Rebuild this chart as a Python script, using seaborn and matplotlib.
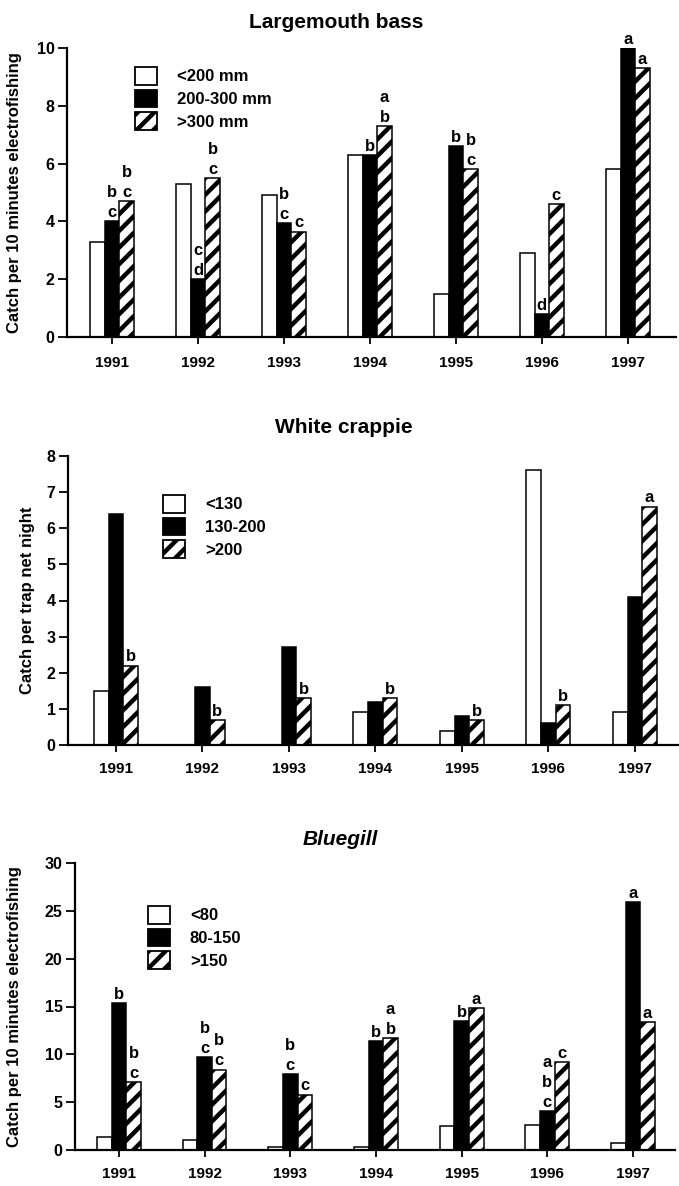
import numpy as np
import pandas as pd
import matplotlib
matplotlib.use("Agg")
import matplotlib.pyplot as plt
import seaborn as sns
from matplotlib.patches import Patch

# ---------------- data ----------------
years = ["1991", "1992", "1993", "1994", "1995", "1996", "1997"]

bass_sizes = ["<200 mm", "200-300 mm", ">300 mm"]
bass_small = [3.3, 5.3, 4.9, 6.3, 1.5, 2.9, 5.8]
bass_mid = [4.0, 2.0, 3.95, 6.3, 6.6, 0.8, 10.0]
bass_large = [4.7, 5.5, 3.65, 7.3, 5.8, 4.6, 9.3]
bass_mid_letters = ["bc", "cd", "bc", "b", "b", "d", "a"]
bass_large_letters = ["bc", "bc", "c", "ab", "bc", "c", "a"]

crappie_sizes = ["<130", "130-200", ">200"]
crappie_small = [1.5, 0.0, 0.0, 0.9, 0.4, 7.6, 0.9]
crappie_mid = [6.4, 1.6, 2.7, 1.2, 0.8, 0.6, 4.1]
crappie_large = [2.2, 0.7, 1.3, 1.3, 0.7, 1.1, 6.6]
crappie_mid_letters = ["", "", "", "", "", "", ""]
crappie_large_letters = ["b", "b", "b", "b", "b", "b", "a"]

bluegill_sizes = ["<80", "80-150", ">150"]
bluegill_small = [1.4, 1.0, 0.3, 0.3, 2.5, 2.6, 0.7]
bluegill_mid = [15.4, 9.7, 7.9, 11.4, 13.5, 4.1, 25.9]
bluegill_large = [7.1, 8.4, 5.8, 11.7, 14.8, 9.2, 13.4]
bluegill_mid_letters = ["b", "bc", "bc", "b", "b", "abc", "a"]
bluegill_large_letters = ["bc", "bc", "c", "ab", "a", "c", "a"]

# ---------------- style ----------------
sns.set_style("ticks")
plt.rcParams["font.family"] = ["Liberation Sans", "DejaVu Sans"]
plt.rcParams["font.weight"] = "bold"
plt.rcParams["text.color"] = "black"
plt.rcParams["axes.labelcolor"] = "black"
plt.rcParams["xtick.color"] = "black"
plt.rcParams["ytick.color"] = "black"
plt.rcParams["hatch.linewidth"] = 3.2
plt.rcParams["hatch.color"] = "black"

W, H = 679, 1186
fig = plt.figure(figsize=(W / 100, H / 100), dpi=100)


def px_axes(left, right, top, bottom):
    return fig.add_axes([left / W, 1 - bottom / H, (right - left) / W, (bottom - top) / H])


def panel(ax, sizes, small, mid, large, mid_letters, large_letters,
          ylim, yticks, xlim, title, title_xy, italic, ylabel, ylabel_x,
          legend_xy, xpad):
    df = pd.DataFrame({
        "year": years * 3,
        "size": np.repeat(sizes, len(years)),
        "catch": list(small) + list(mid) + list(large),
    })
    sns.barplot(data=df, x="year", y="catch", hue="size", order=years,
                hue_order=sizes, palette=["white", "black", "white"],
                saturation=1, edgecolor="black", linewidth=1.1, width=0.51,
                errorbar=None, legend=False, ax=ax)
    for p in ax.containers[2].patches:
        p.set_hatch("//")

    # significance letters
    for cont, letters in ((ax.containers[1], mid_letters), (ax.containers[2], large_letters)):
        for p, lt in zip(cont.patches, letters):
            cx = p.get_x() + p.get_width() / 2
            top = p.get_height()
            for i, ch in enumerate(reversed(lt)):
                ax.annotate(ch, xy=(cx, top), xytext=(0, 3 + i * 14.4),
                            textcoords="offset points", ha="center",
                            va="baseline", fontsize=12, fontweight="bold",
                            color="black")

    ax.set_ylim(*ylim)
    ax.set_yticks(yticks)
    ax.set_xlim(*xlim)
    ax.set_xlabel("")
    ax.set_ylabel(ylabel, fontsize=12, fontweight="bold", va="center",
                  color="black")
    bb = ax.get_position()
    ax.yaxis.set_label_coords(ylabel_x / W, bb.y0 + bb.height / 2,
                              transform=fig.transFigure)

    for s in ("top", "right"):
        ax.spines[s].set_visible(False)
    for s in ("left", "bottom"):
        ax.spines[s].set_linewidth(1.6)
        ax.spines[s].set_color("black")
    ax.tick_params(axis="y", direction="out", length=6.5, width=1.3, pad=2.5,
                   labelsize=11.5, colors="black")
    ax.tick_params(axis="x", direction="out", length=5, width=1.3, pad=xpad,
                   labelsize=11, colors="black")
    for lab in ax.get_xticklabels() + ax.get_yticklabels():
        lab.set_fontweight("bold")

    fig.text(title_xy[0] / W, 1 - title_xy[1] / H, title, ha="center",
             va="baseline", fontsize=15, fontweight="bold", color="black",
             style="italic" if italic else "normal")

    handles = [
        Patch(facecolor="white", edgecolor="black", linewidth=1.3),
        Patch(facecolor="black", edgecolor="black", linewidth=1.3),
        Patch(facecolor="white", edgecolor="black", linewidth=1.3, hatch="//"),
    ]
    ax.legend(handles, sizes, loc="upper left",
              bbox_to_anchor=(legend_xy[0] / W, 1 - legend_xy[1] / H),
              bbox_transform=fig.transFigure, frameon=False, borderpad=0,
              borderaxespad=0, handlelength=1.32, handleheight=1.26,
              labelspacing=0.3, handletextpad=1.2,
              prop={"size": 12, "weight": "bold"})


ax1 = px_axes(67, 676, 48, 337)
panel(ax1, bass_sizes, bass_small, bass_mid, bass_large, bass_mid_letters,
      bass_large_letters, (0, 10), np.arange(0, 11, 2), (-0.523, 6.56),
      "Largemouth bass", (336, 28), False,
      "Catch per 10 minutes electrofishing", 15, (135, 67), 9)

ax2 = px_axes(68, 679, 456, 745)
panel(ax2, crappie_sizes, crappie_small, crappie_mid, crappie_large,
      crappie_mid_letters, crappie_large_letters, (0, 8), np.arange(0, 9, 1),
      (-0.555, 6.51), "White crappie", (344, 433), False,
      "Catch per trap net night", 28, (163, 495), 7)

ax3 = px_axes(75, 675, 863, 1150)
panel(ax3, bluegill_sizes, bluegill_small, bluegill_mid, bluegill_large,
      bluegill_mid_letters, bluegill_large_letters, (0, 30), np.arange(0, 31, 5),
      (-0.513, 6.49), "Bluegill", (340, 845), True,
      "Catch per 10 minutes electrofishing", 15, (148, 906), 7)

fig.savefig("out.png", dpi=100)
